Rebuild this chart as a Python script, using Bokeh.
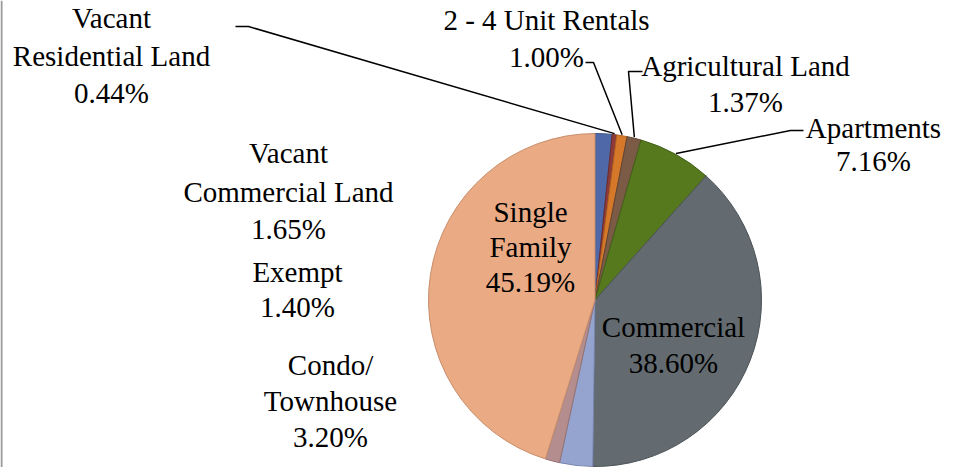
import math
from bokeh.plotting import figure
from bokeh.models import Range1d, ColumnDataSource
from bokeh.core.properties import value
from bokeh.embed import file_html
from bokeh.resources import INLINE

# ---- data (clockwise from 12 o'clock) ----
categories = ["Vacant Commercial Land", "Vacant Residential Land", "2 - 4 Unit Rentals",
              "Agricultural Land", "Apartments", "Commercial", "Condo/ Townhouse",
              "Exempt", "Single Family"]
percent = [1.65, 0.44, 1.00, 1.37, 7.16, 38.60, 3.20, 1.40, 45.19]
fill_colors = ["#4F69A8", "#8E3B3B", "#D6782A", "#7B5B45", "#56791E",
               "#636B70", "#95A3CF", "#B48E8E", "#E9AA84"]
edge_colors = ["#3E5488", "#6E2B2B", "#B0601E", "#5E4433", "#43601A",
               "#4B5256", "#7886B0", "#967272", "#C88E6C"]

# label text lines
label_lines = {
    "Vacant Commercial Land": ["Vacant", "Commercial Land", "1.65%"],
    "Vacant Residential Land": ["Vacant", "Residential Land", "0.44%"],
    "2 - 4 Unit Rentals": ["2 - 4 Unit Rentals", "1.00%"],
    "Agricultural Land": ["Agricultural Land", "1.37%"],
    "Apartments": ["Apartments", "7.16%"],
    "Commercial": ["Commercial", "38.60%"],
    "Condo/ Townhouse": ["Condo/", "Townhouse", "3.20%"],
    "Exempt": ["Exempt", "1.40%"],
    "Single Family": ["Single", "Family", "45.19%"],
}

# ---- layout (reference-pixel coordinates; y measured from top) ----
FIG_W, FIG_H = 950, 467
Y_OFF = 6
CX, CY, R = 594.5, 305.5, 166.5
FONT = "Liberation Serif"
FSIZE = "29px"

label_pos = {   # center x, center y of each line
    "Vacant Commercial Land": (288, [158, 197, 234]),
    "Vacant Residential Land": (111, [23, 61, 98]),
    "2 - 4 Unit Rentals": (546, [25, 62]),
    "Agricultural Land": (745, [71, 107]),
    "Apartments": (873, [133, 166]),
    "Commercial": (673, [332, 368]),
    "Condo/ Townhouse": (330, [370, 406, 442]),
    "Exempt": (297, [277, 312]),
    "Single Family": (530, [217, 252, 287]),
}
leader_start = {  # (start x, elbow x, y)
    "Vacant Residential Land": (235, 248, 32),
    "2 - 4 Unit Rentals": (585, 593, 68),
    "Agricultural Land": (642, 628, 77),
    "Apartments": (803, 790, 136),
}

def fy(y):
    return FIG_H + Y_OFF - y

p = figure(width=FIG_W, height=FIG_H, x_range=Range1d(0, FIG_W), y_range=Range1d(0, FIG_H),
           output_backend="svg", toolbar_location=None, min_border=0,
           background_fill_color="white", border_fill_color="white")
p.axis.visible = False
p.grid.visible = False
p.outline_line_color = None

# wedges
total = sum(percent)
starts, ends, mids = [], [], []
cum = 0.0
for v in percent:
    a0 = math.pi / 2 - 2 * math.pi * cum / total
    cum += v
    a1 = math.pi / 2 - 2 * math.pi * cum / total
    starts.append(a1)
    ends.append(a0)
    mids.append((a0 + a1) / 2)

src = ColumnDataSource(dict(start=starts, end=ends, fill=fill_colors, edge=edge_colors))
p.wedge(x=CX, y=fy(CY), radius=R, start_angle="start", end_angle="end",
        fill_color="fill", line_color="edge", line_width=1, source=src)

# leader lines
for name, (sx, ex, ly) in leader_start.items():
    i = categories.index(name)
    ang = mids[i]
    px = CX + (R + 1) * math.cos(ang)
    py = fy(CY) + (R + 1) * math.sin(ang)
    p.line(x=[sx, ex, px], y=[fy(ly), fy(ly), py], line_color="black", line_width=1.5)

# labels
xs, ys, txt = [], [], []
for name in categories:
    lx, lys = label_pos[name]
    for line, ly in zip(label_lines[name], lys):
        xs.append(lx)
        ys.append(fy(ly))
        txt.append(line)
p.text(x=xs, y=ys, text=txt, text_align="center", text_baseline="middle",
       text_font=value(FONT), text_font_size=FSIZE, text_color="#000000")

# left frame line
p.line(x=[1, 1], y=[0, FIG_H], line_color="#9A9A9A", line_width=2)

open("out.html", "w").write(file_html(p, INLINE))
